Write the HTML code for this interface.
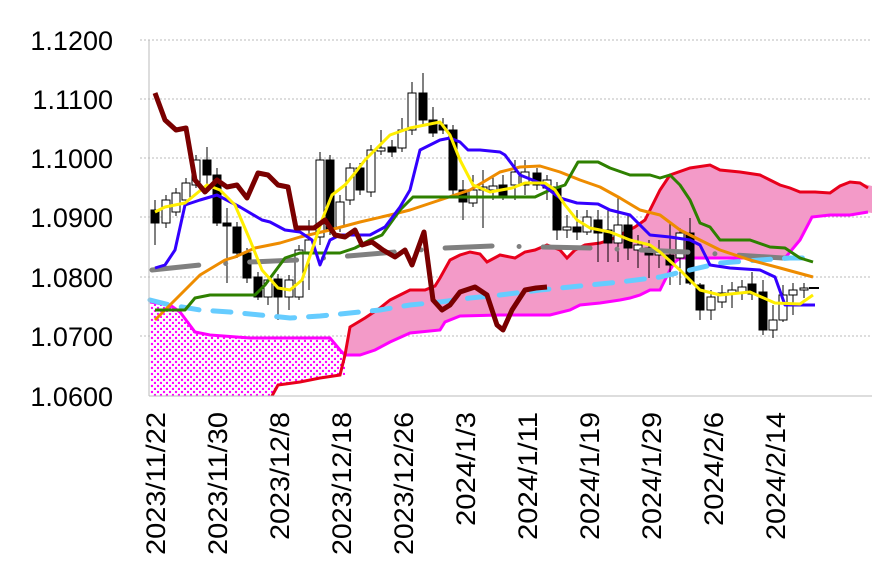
<!DOCTYPE html>
<html><head><meta charset="utf-8"><style>body{margin:0;background:#fff}svg{display:block}</style></head><body>
<svg width="877" height="574" xmlns="http://www.w3.org/2000/svg" font-family="Liberation Sans, sans-serif">
<defs>
<pattern id="dots" width="6" height="6" patternUnits="userSpaceOnUse"><rect width="6" height="6" fill="#fff"/><circle cx="2" cy="2" r="1.2" fill="#f0f"/><circle cx="5" cy="5" r="1.2" fill="#f0f"/></pattern>
<clipPath id="pc"><rect x="149" y="30" width="728" height="366"/></clipPath>
</defs>
<g stroke="#bbb" stroke-dasharray="2 2" stroke-width="1">
<line x1="140" y1="40" x2="872" y2="40"/><line x1="140" y1="99" x2="872" y2="99"/><line x1="140" y1="158" x2="872" y2="158"/><line x1="140" y1="217" x2="872" y2="217"/><line x1="140" y1="277" x2="872" y2="277"/><line x1="140" y1="336" x2="872" y2="336"/>
</g>
<g font-size="27" text-anchor="end" fill="#000">
<text x="113" y="50">1.1200</text><text x="113" y="109">1.1100</text><text x="113" y="168">1.1000</text><text x="113" y="227">1.0900</text><text x="113" y="287">1.0800</text><text x="113" y="346">1.0700</text><text x="113" y="406">1.0600</text>
</g>
<g clip-path="url(#pc)">
<polygon fill="url(#dots)" points="150,302 170,305 180,312 195,332 210,335 250,338 290,338 330,338 340,350 345,355 345,375 340,375 320,378 310,380 300,382 278,385 272,396 150,396"/>
<polygon fill="#f39ac8" points="345,355 350,327 365,318 380,308 390,300 400,295 410,290 425,290 435,286 440,278 450,260 460,255 470,252 480,254 487,262 500,255 515,258 525,252 535,250 547,245 560,250 567,258 575,250 585,245 600,243 610,240 620,235 635,227 645,220 650,210 660,190 670,175 690,168 710,165 720,170 740,172 760,175 770,180 780,185 790,188 800,192 815,192 830,193 840,186 850,182 860,183 872,186 872,213 865,212 850,215 830,215 812,217 800,240 785,258 740,258 690,258 680,258 675,262 670,270 660,290 650,290 640,295 630,298 620,300 600,303 580,305 570,310 550,315 500,315 460,316 445,322 440,330 410,333 390,342 375,350 360,355"/>
<polyline fill="none" stroke="#f0f" stroke-width="3" points="150,302 170,305 180,312 195,332 210,335 250,338 290,338 330,338 340,350 345,355 360,355 375,350 390,342 410,333 440,330 445,322 460,316 500,315 550,315 570,310 580,305 600,303 620,300 630,298 640,295 650,290 660,290 670,270 675,262 680,258 690,258 740,258 785,258 800,240 812,217 830,215 850,215 868,212"/>
<polyline fill="none" stroke="#e8001c" stroke-width="3" points="268,400 272,396 278,385 300,382 310,380 320,378 340,375 345,355 350,327 365,318 380,308 390,300 400,295 410,290 425,290 435,286 440,278 450,260 460,255 470,252 480,254 487,262 500,255 515,258 525,252 535,250 547,245 560,250 567,258 575,250 585,245 600,243 610,240 620,235 635,227 645,220 650,210 660,190 670,175 690,168 710,165 720,170 740,172 760,175 770,180 780,185 790,188 800,192 815,192 830,193 840,186 850,182 860,183 868,188"/>
</g>
<g stroke="#000" stroke-width="1">
<line x1="155" y1="200" x2="155" y2="245"/><rect x="151" y="210" width="8" height="13" fill="#000"/>
<line x1="166" y1="195" x2="166" y2="228"/><rect x="162" y="200" width="8" height="23" fill="#fff"/>
<line x1="176" y1="188" x2="176" y2="216"/><rect x="172" y="193" width="8" height="19" fill="#fff"/>
<line x1="186" y1="178" x2="186" y2="204"/><rect x="182" y="183" width="8" height="17" fill="#fff"/>
<line x1="196" y1="155" x2="196" y2="188"/><rect x="192" y="160" width="8" height="25" fill="#fff"/>
<line x1="207" y1="147" x2="207" y2="185"/><rect x="203" y="160" width="8" height="15" fill="#000"/>
<line x1="217" y1="168" x2="217" y2="226"/><rect x="213" y="175" width="8" height="48" fill="#000"/>
<line x1="227" y1="208" x2="227" y2="283"/><rect x="223" y="223" width="8" height="3" fill="#000"/>
<line x1="237" y1="222" x2="237" y2="258"/><rect x="233" y="227" width="8" height="26" fill="#000"/>
<line x1="247" y1="248" x2="247" y2="283"/><rect x="243" y="253" width="8" height="25" fill="#000"/>
<line x1="258" y1="272" x2="258" y2="300"/><rect x="254" y="277" width="8" height="20" fill="#000"/>
<line x1="268" y1="275" x2="268" y2="305"/><rect x="264" y="280" width="8" height="17" fill="#fff"/>
<line x1="278" y1="274" x2="278" y2="320"/><rect x="274" y="279" width="8" height="18" fill="#000"/>
<line x1="289" y1="275" x2="289" y2="310"/><rect x="285" y="280" width="8" height="17" fill="#fff"/>
<line x1="299" y1="245" x2="299" y2="300"/><rect x="295" y="250" width="8" height="47" fill="#fff"/>
<line x1="309" y1="220" x2="309" y2="290"/><rect x="305" y="240" width="8" height="12" fill="#fff"/>
<line x1="320" y1="152" x2="320" y2="245"/><rect x="316" y="160" width="8" height="77" fill="#fff"/>
<line x1="330" y1="155" x2="330" y2="235"/><rect x="326" y="160" width="8" height="70" fill="#000"/>
<line x1="340" y1="195" x2="340" y2="232"/><rect x="336" y="202" width="8" height="25" fill="#fff"/>
<line x1="350" y1="163" x2="350" y2="205"/><rect x="346" y="168" width="8" height="32" fill="#fff"/>
<line x1="360" y1="163" x2="360" y2="195"/><rect x="356" y="168" width="8" height="22" fill="#000"/>
<line x1="371" y1="145" x2="371" y2="197"/><rect x="367" y="150" width="8" height="42" fill="#fff"/>
<line x1="381" y1="130" x2="381" y2="155"/><rect x="377" y="148" width="8" height="3" fill="#fff"/>
<line x1="392" y1="140" x2="392" y2="157"/><rect x="388" y="147" width="8" height="5" fill="#000"/>
<line x1="402" y1="118" x2="402" y2="152"/><rect x="398" y="130" width="8" height="18" fill="#fff"/>
<line x1="412" y1="82" x2="412" y2="135"/><rect x="408" y="93" width="8" height="37" fill="#fff"/>
<line x1="423" y1="73" x2="423" y2="125"/><rect x="419" y="93" width="8" height="27" fill="#000"/>
<line x1="433" y1="107" x2="433" y2="137"/><rect x="429" y="120" width="8" height="13" fill="#000"/>
<line x1="443" y1="118" x2="443" y2="134"/><rect x="439" y="125" width="8" height="5" fill="#000"/>
<line x1="453" y1="125" x2="453" y2="195"/><rect x="449" y="130" width="8" height="60" fill="#000"/>
<line x1="463" y1="180" x2="463" y2="220"/><rect x="459" y="190" width="8" height="12" fill="#000"/>
<line x1="473" y1="175" x2="473" y2="207"/><rect x="469" y="190" width="8" height="13" fill="#fff"/>
<line x1="483" y1="170" x2="483" y2="228"/><rect x="479" y="187" width="8" height="3" fill="#fff"/>
<line x1="493" y1="175" x2="493" y2="200"/><rect x="489" y="186" width="8" height="4" fill="#fff"/>
<line x1="503" y1="175" x2="503" y2="200"/><rect x="499" y="185" width="8" height="10" fill="#000"/>
<line x1="515" y1="160" x2="515" y2="200"/><rect x="511" y="172" width="8" height="13" fill="#fff"/>
<line x1="525" y1="160" x2="525" y2="195"/><rect x="521" y="172" width="8" height="13" fill="#fff"/>
<line x1="537" y1="168" x2="537" y2="190"/><rect x="533" y="173" width="8" height="12" fill="#000"/>
<line x1="547" y1="175" x2="547" y2="200"/><rect x="543" y="180" width="8" height="8" fill="#fff"/>
<line x1="557" y1="182" x2="557" y2="240"/><rect x="553" y="187" width="8" height="43" fill="#000"/>
<line x1="567" y1="215" x2="567" y2="238"/><rect x="563" y="227" width="8" height="3" fill="#fff"/>
<line x1="577" y1="210" x2="577" y2="240"/><rect x="573" y="227" width="8" height="5" fill="#000"/>
<line x1="587" y1="210" x2="587" y2="235"/><rect x="583" y="217" width="8" height="15" fill="#fff"/>
<line x1="598" y1="210" x2="598" y2="262"/><rect x="594" y="220" width="8" height="13" fill="#000"/>
<line x1="608" y1="210" x2="608" y2="262"/><rect x="604" y="230" width="8" height="13" fill="#000"/>
<line x1="618" y1="197" x2="618" y2="262"/><rect x="614" y="225" width="8" height="18" fill="#fff"/>
<line x1="628" y1="215" x2="628" y2="260"/><rect x="624" y="225" width="8" height="23" fill="#000"/>
<line x1="638" y1="235" x2="638" y2="268"/><rect x="634" y="245" width="8" height="5" fill="#fff"/>
<line x1="649" y1="240" x2="649" y2="278"/><rect x="645" y="248" width="8" height="7" fill="#000"/>
<line x1="659" y1="240" x2="659" y2="268"/><rect x="655" y="252" width="8" height="3" fill="#fff"/>
<line x1="670" y1="224" x2="670" y2="285"/><rect x="666" y="255" width="8" height="10" fill="#000"/>
<line x1="680" y1="228" x2="680" y2="285"/><rect x="676" y="233" width="8" height="25" fill="#fff"/>
<line x1="690" y1="218" x2="690" y2="285"/><rect x="686" y="233" width="8" height="50" fill="#000"/>
<line x1="700" y1="283" x2="700" y2="320"/><rect x="696" y="285" width="8" height="25" fill="#000"/>
<line x1="711" y1="290" x2="711" y2="320"/><rect x="707" y="297" width="8" height="13" fill="#fff"/>
<line x1="722" y1="285" x2="722" y2="308"/><rect x="718" y="293" width="8" height="9" fill="#fff"/>
<line x1="732" y1="282" x2="732" y2="308"/><rect x="728" y="290" width="8" height="3" fill="#fff"/>
<line x1="742" y1="280" x2="742" y2="300"/><rect x="738" y="287" width="8" height="6" fill="#fff"/>
<line x1="752" y1="272" x2="752" y2="300"/><rect x="748" y="284" width="8" height="10" fill="#000"/>
<line x1="763" y1="280" x2="763" y2="335"/><rect x="759" y="292" width="8" height="38" fill="#000"/>
<line x1="773" y1="305" x2="773" y2="338"/><rect x="769" y="320" width="8" height="10" fill="#fff"/>
<line x1="783" y1="285" x2="783" y2="322"/><rect x="779" y="295" width="8" height="25" fill="#fff"/>
<line x1="793" y1="283" x2="793" y2="315"/><rect x="789" y="290" width="8" height="5" fill="#fff"/>
<line x1="804" y1="283" x2="804" y2="298"/><rect x="800" y="288" width="8" height="2" fill="#fff"/>
<line x1="809" y1="288" x2="819" y2="288" stroke-width="2"/>
</g>
<g fill="none" stroke-linejoin="round">
<polyline stroke="#808080" stroke-width="5" stroke-linecap="round" stroke-dasharray="47 27 0 24" points="152,270 200,265 250,262 298,260 348,256 395,252 445,248 492,246 542,247 590,248 640,250 686,252 735,255 783,258 810,258"/>
<polyline stroke="#66ccff" stroke-width="5" stroke-linecap="round" stroke-dasharray="18 14" points="150,300 170,305 200,310 230,312 260,315 290,318 320,316 350,313 380,310 410,305 440,302 470,298 500,295 540,290 580,286 620,282 660,277 690,270 720,263 760,260 790,258 815,258"/>
<polyline stroke="#ee8c00" stroke-width="3" points="155,320 175,300 200,275 225,260 235,257 255,248 280,243 300,237 330,230 360,222 390,215 410,210 440,200 470,190 500,172 520,167 540,166 560,172 580,180 600,187 620,198 640,210 660,215 680,230 700,240 720,250 750,260 780,268 813,277"/>
<polyline stroke="#2e8000" stroke-width="3" points="155,310 185,310 195,298 210,295 255,295 265,285 285,258 300,253 340,253 355,248 370,240 382,235 400,210 413,197 535,197 550,190 565,185 578,162 598,162 610,168 630,175 650,175 660,178 670,175 680,185 690,200 700,223 710,227 720,240 750,240 770,247 785,248 800,258 813,262"/>
<polyline stroke="#3300ff" stroke-width="3" points="155,268 165,265 175,250 185,205 200,200 217,195 240,207 262,220 270,222 285,230 300,232 312,240 320,265 330,240 340,235 370,235 385,227 400,207 410,190 420,150 440,140 450,138 460,142 468,150 480,150 500,152 505,155 520,175 540,183 560,198 577,203 598,204 610,210 630,215 650,235 670,237 690,240 700,245 710,265 730,268 760,270 775,277 785,305 815,305"/>
<polyline stroke="#ffee00" stroke-width="3" points="155,212 165,207 185,203 207,185 220,190 235,205 250,240 262,270 278,288 290,290 302,280 312,250 322,220 332,195 345,185 355,173 365,160 375,150 390,135 410,128 440,122 450,135 460,160 473,185 490,192 512,188 525,183 545,183 555,190 565,205 577,220 590,228 610,232 630,240 650,245 660,252 680,270 700,290 720,295 750,292 775,303 800,304 813,295"/>
<polyline stroke="#7a0000" stroke-width="5" points="155,93 165,120 176,130 186,128 195,180 205,192 217,180 227,187 237,185 247,198 258,173 268,175 278,185 288,187 296,228 305,228 314,228 325,220 335,235 345,237 355,230 362,245 372,242 383,250 395,257 405,250 412,265 424,232 433,300 442,310 450,305 460,292 475,287 487,295 497,325 503,330 512,310 525,290 536,288 547,287"/>
</g>
<line x1="149" y1="40" x2="149" y2="396" stroke="#bbb"/>
<line x1="149" y1="396" x2="872" y2="396" stroke="#bbb"/>
<g font-size="27" text-anchor="end" fill="#000">
<text transform="translate(165,412) rotate(-90)" textLength="143" lengthAdjust="spacingAndGlyphs">2023/11/22</text>
<text transform="translate(227,412) rotate(-90)" textLength="143" lengthAdjust="spacingAndGlyphs">2023/11/30</text>
<text transform="translate(289,412) rotate(-90)" textLength="128" lengthAdjust="spacingAndGlyphs">2023/12/8</text>
<text transform="translate(351,412) rotate(-90)" textLength="143" lengthAdjust="spacingAndGlyphs">2023/12/18</text>
<text transform="translate(413,412) rotate(-90)" textLength="143" lengthAdjust="spacingAndGlyphs">2023/12/26</text>
<text transform="translate(475,412) rotate(-90)" textLength="114" lengthAdjust="spacingAndGlyphs">2024/1/3</text>
<text transform="translate(537,412) rotate(-90)" textLength="128" lengthAdjust="spacingAndGlyphs">2024/1/11</text>
<text transform="translate(599,412) rotate(-90)" textLength="128" lengthAdjust="spacingAndGlyphs">2024/1/19</text>
<text transform="translate(661,412) rotate(-90)" textLength="128" lengthAdjust="spacingAndGlyphs">2024/1/29</text>
<text transform="translate(723,412) rotate(-90)" textLength="114" lengthAdjust="spacingAndGlyphs">2024/2/6</text>
<text transform="translate(785,412) rotate(-90)" textLength="128" lengthAdjust="spacingAndGlyphs">2024/2/14</text>
</g>
</svg>
</body></html>
